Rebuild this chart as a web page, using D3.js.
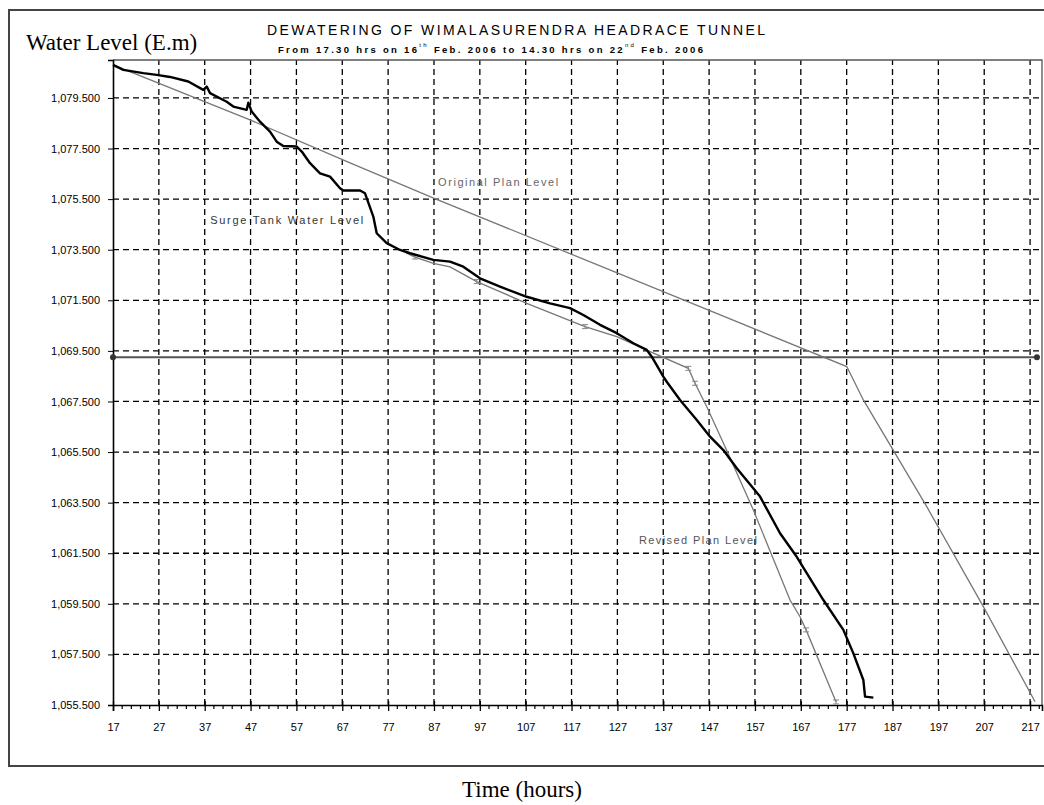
<!DOCTYPE html>
<html>
<head>
<meta charset="utf-8">
<script src="https://cdn.jsdelivr.net/npm/d3@7"></script>
<style>
  body { margin: 0; background: #fff; }
  svg { display: block; }
</style>
</head>
<body>
<div id="chart"></div>
<script>
// hours from start of dewatering / level in m (E.m)
const surgeHours = [17.0, 19.25, 23.61, 26.53, 29.43, 33.42, 36.69, 37.44, 38.16, 41.80, 43.24, 46.16, 46.51, 47.25,
  49.06, 51.24, 52.70, 54.14, 57.06, 58.16, 59.97, 62.15, 64.33, 66.51, 67.23, 70.87, 71.96, 73.77, 74.51,
  76.69, 79.59, 81.78, 86.86, 90.50, 93.40, 97.04, 101.40, 107.23, 112.31, 116.67, 119.57, 123.21, 126.86,
  130.48, 133.40, 134.49, 137.02, 137.76, 140.66, 144.31, 147.21, 150.11, 153.03, 158.11, 162.47, 166.11,
  171.92, 176.28, 178.46, 180.64, 181.01, 182.82];
const surgeLevels = [1080.81, 1080.61, 1080.48, 1080.41, 1080.33, 1080.15, 1079.82, 1079.95, 1079.69, 1079.35, 1079.16,
  1079.03, 1079.31, 1078.96, 1078.56, 1078.17, 1077.77, 1077.60, 1077.58, 1077.38, 1076.92, 1076.52, 1076.39,
  1075.93, 1075.84, 1075.84, 1075.73, 1074.81, 1074.15, 1073.76, 1073.49, 1073.36, 1073.10, 1073.03, 1072.83,
  1072.37, 1072.04, 1071.64, 1071.38, 1071.19, 1070.92, 1070.53, 1070.20, 1069.80, 1069.54, 1069.27, 1068.48,
  1068.28, 1067.56, 1066.77, 1066.11, 1065.58, 1064.86, 1063.74, 1062.29, 1061.36, 1059.65, 1058.47, 1057.54,
  1056.49, 1055.83, 1055.79];

const originalHours = [17.0, 46.88, 68.69, 86.79, 145.02, 177.02, 180.64, 194.47, 206.81, 218.09];
const originalLevels = [1080.81, 1078.63, 1076.93, 1075.55, 1071.25, 1068.88, 1067.56, 1063.34, 1059.39, 1055.63];

const revisedHours = [80.90, 82.87, 86.86, 90.50, 96.32, 107.23, 119.94, 126.86, 134.12, 142.47, 143.93, 146.49,
  150.48, 156.65, 164.65, 166.83, 168.15, 174.69];
const revisedLevels = [1073.37, 1073.21, 1072.96, 1072.82, 1072.24, 1071.38, 1070.46, 1070.06, 1069.47, 1068.81,
  1068.22, 1067.29, 1065.71, 1063.21, 1059.65, 1058.99, 1058.47, 1055.62];
const revisedMarks = [1, 4, 6, 9, 10, 16, 17];

const referenceHours = [17, 218.5];
const referenceLevel = 1069.25;

const yTicks = [1055.5, 1057.5, 1059.5, 1061.5, 1063.5, 1065.5, 1067.5, 1069.5, 1071.5, 1073.5, 1075.5, 1077.5, 1079.5];
const xTicks = d3.range(17, 218, 10);
const xMinorTicks = d3.range(17, 220, 2);

const seriesLabels = [
  { text: 'Surge Tank Water Level', h: 38.2, v: 1074.52, len: 153, color: '#333' },
  { text: 'Original Plan Level', h: 87.9, v: 1076.02, len: 120, color: '#666' },
  { text: 'Revised Plan Level', h: 131.7, v: 1061.87, len: 118, color: '#555' }
];

const W = 1044, H = 805;
const plot = { left: 113, top: 60, right: 1042, bottom: 705 };

const svg = d3.select('#chart').append('svg')
  .attr('width', W)
  .attr('height', H);

const x = d3.scaleLinear().domain([17, 219.6]).range([plot.left, plot.right]);
const y = d3.scaleLinear().domain([1055.5, 1081]).range([plot.bottom, plot.top]);

// outer frame
svg.append('rect')
  .attr('x', 9).attr('y', 10)
  .attr('width', 1040).attr('height', 756)
  .attr('fill', 'none')
  .attr('stroke', '#444')
  .attr('stroke-width', 2);

// titles
svg.append('text')
  .attr('x', 516).attr('y', 35)
  .attr('text-anchor', 'middle')
  .attr('font-family', 'Liberation Sans, Arial, sans-serif')
  .attr('font-size', 14)
  .attr('textLength', 498)
  .attr('lengthAdjust', 'spacing')
  .text('DEWATERING OF WIMALASURENDRA HEADRACE TUNNEL');

const sub = svg.append('text')
  .attr('x', 278).attr('y', 53)
  .attr('font-family', 'Liberation Sans, Arial, sans-serif')
  .attr('font-size', 9.5)
  .attr('font-weight', 'bold')
  .attr('textLength', 425)
  .attr('lengthAdjust', 'spacing');
sub.append('tspan').text('From 17.30 hrs on 16');
sub.append('tspan').attr('dy', -6).attr('font-size', 6).attr('font-weight', 'normal').text('th');
sub.append('tspan').attr('dy', 6).text(' Feb. 2006 to 14.30 hrs on 22');
sub.append('tspan').attr('dy', -6).attr('font-size', 6).attr('font-weight', 'normal').text('nd');
sub.append('tspan').attr('dy', 6).text(' Feb. 2006');

svg.append('text')
  .attr('x', 26).attr('y', 50)
  .attr('font-family', 'Liberation Serif, Times New Roman, serif')
  .attr('font-size', 23)
  .text('Water Level (E.m)');

svg.append('text')
  .attr('x', 522).attr('y', 797)
  .attr('text-anchor', 'middle')
  .attr('font-family', 'Liberation Serif, Times New Roman, serif')
  .attr('font-size', 23)
  .text('Time (hours)');

// grid
const grid = svg.append('g').attr('class', 'grid')
  .attr('stroke', '#000')
  .attr('stroke-width', 1.3)
  .attr('stroke-dasharray', '6,4');

grid.selectAll('.hgrid')
  .data(yTicks.filter(d => d > 1055.5))
  .enter().append('line')
  .attr('x1', plot.left).attr('x2', plot.right)
  .attr('y1', d => y(d)).attr('y2', d => y(d));

grid.selectAll('.vgrid')
  .data(xTicks.filter(d => d > 17))
  .enter().append('line')
  .attr('x1', d => x(d)).attr('x2', d => x(d))
  .attr('y1', plot.bottom).attr('y2', plot.top);

// plot border (top/right)
svg.append('path')
  .attr('d', `M${plot.left},${plot.top}H${plot.right}V${plot.bottom}`)
  .attr('fill', 'none')
  .attr('stroke', '#555')
  .attr('stroke-width', 1.3);

// axes
const yAxis = svg.append('g')
  .attr('transform', `translate(${plot.left},0)`)
  .call(d3.axisLeft(y).tickValues(yTicks).tickSize(5).tickPadding(8).tickFormat(d3.format(',.3f')));
yAxis.select('.domain').attr('stroke-width', 1.6);
yAxis.selectAll('text')
  .attr('font-family', 'Liberation Sans, Arial, sans-serif')
  .attr('font-size', 11)
  .attr('fill', '#000');

const xAxis = svg.append('g')
  .attr('transform', `translate(0,${plot.bottom})`)
  .call(d3.axisBottom(x).tickValues(xTicks).tickSize(6).tickPadding(12).tickFormat(d3.format('d')));
xAxis.select('.domain').attr('stroke-width', 1.6);
xAxis.selectAll('.tick line').attr('y1', -4).attr('stroke-width', 1.3);
xAxis.selectAll('text')
  .attr('font-family', 'Liberation Sans, Arial, sans-serif')
  .attr('font-size', 11)
  .attr('fill', '#000');

xAxis.selectAll('.minor')
  .data(xMinorTicks.filter(d => (d - 17) % 10 !== 0))
  .enter().append('line')
  .attr('class', 'minor')
  .attr('x1', d => x(d)).attr('x2', d => x(d))
  .attr('y1', 0).attr('y2', 4)
  .attr('stroke', '#000')
  .attr('stroke-width', 1.2);

// series
const line = d3.line()
  .x(d => x(d[0]))
  .y(d => y(d[1]));

svg.append('path')
  .datum(referenceHours.map(h => [h, referenceLevel]))
  .attr('d', line)
  .attr('fill', 'none')
  .attr('stroke', '#555')
  .attr('stroke-width', 2);

svg.selectAll('.ref-dot')
  .data(referenceHours)
  .enter().append('circle')
  .attr('cx', d => x(d))
  .attr('cy', y(referenceLevel))
  .attr('r', 3)
  .attr('fill', '#333');

const originalData = originalHours.map((h, i) => [h, originalLevels[i]]);
svg.append('path')
  .datum(originalData)
  .attr('d', line)
  .attr('fill', 'none')
  .attr('stroke', '#777')
  .attr('stroke-width', 1.3);

const revisedData = revisedHours.map((h, i) => [h, revisedLevels[i]]);
svg.append('path')
  .datum(revisedData)
  .attr('d', line)
  .attr('fill', 'none')
  .attr('stroke', '#777')
  .attr('stroke-width', 1.3);

svg.selectAll('.rev-mark')
  .data(revisedMarks.map(i => revisedData[i]))
  .enter().append('path')
  .attr('d', d => {
    const cx = x(d[0]), cy = y(d[1]);
    return `M${cx - 3},${cy - 2}H${cx + 3}M${cx},${cy - 2}V${cy + 2}M${cx - 3},${cy + 2}H${cx + 3}`;
  })
  .attr('stroke', '#888')
  .attr('stroke-width', 1);

const surgeData = surgeHours.map((h, i) => [h, surgeLevels[i]]);
svg.append('path')
  .datum(surgeData)
  .attr('d', line)
  .attr('fill', 'none')
  .attr('stroke', '#000')
  .attr('stroke-width', 2.4)
  .attr('stroke-linejoin', 'round');

// series labels
svg.selectAll('.series-label')
  .data(seriesLabels)
  .enter().append('text')
  .attr('x', d => x(d.h))
  .attr('y', d => y(d.v))
  .attr('font-family', 'Liberation Sans, Arial, sans-serif')
  .attr('font-size', 11)
  .attr('fill', d => d.color)
  .attr('textLength', d => d.len)
  .attr('lengthAdjust', 'spacing')
  .text(d => d.text);
</script>
</body>
</html>
